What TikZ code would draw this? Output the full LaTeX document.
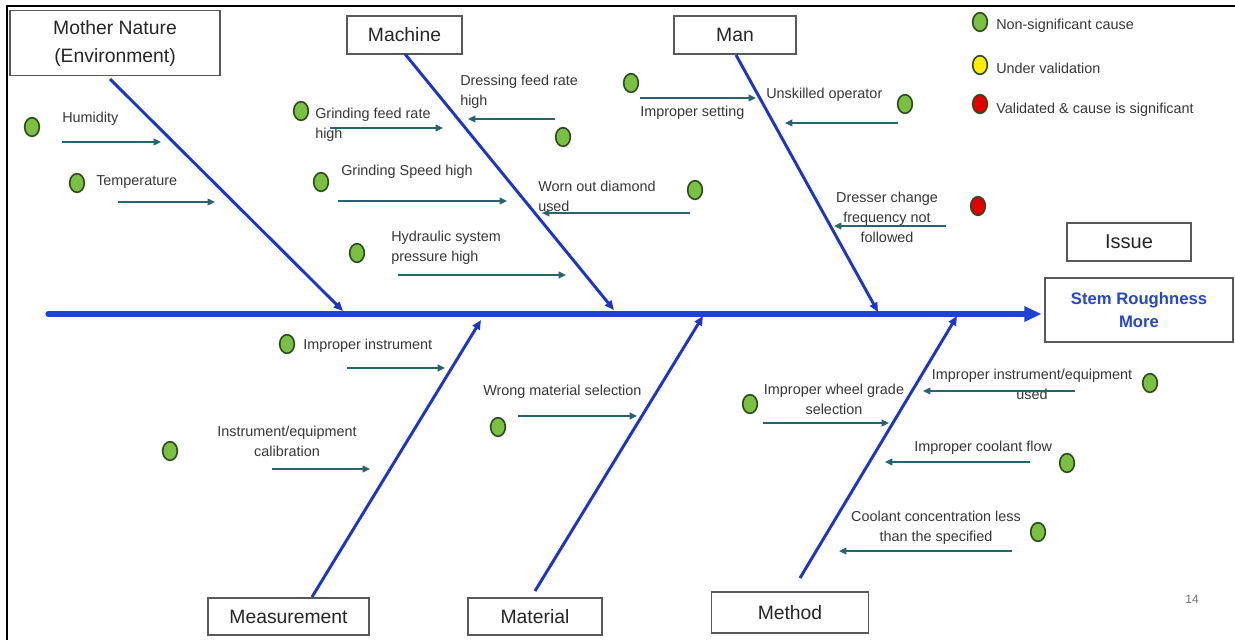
\documentclass[tikz,border=0pt]{standalone}
\usepackage{fontspec}
\setmainfont{Liberation Sans}
\usetikzlibrary{arrows.meta,shapes.geometric}
\definecolor{bonec}{RGB}{28,52,200}
\definecolor{spinec}{RGB}{30,66,214}
\definecolor{twig}{RGB}{40,100,110}
\definecolor{txt}{RGB}{55,55,55}
\definecolor{okgreen}{RGB}{122,192,66}
\definecolor{dotline}{RGB}{45,75,30}
\definecolor{pend}{RGB}{255,236,0}
\definecolor{bad}{RGB}{228,0,0}
\definecolor{effectc}{RGB}{40,70,200}
\begin{document}
\begin{tikzpicture}[x=0.75pt,y=-0.75pt,
  catbox/.style={draw=black!65,line width=1.1pt,fill=white,inner sep=0pt,
    font=\fontsize{14.5}{21}\selectfont,text=black!85,align=center},
  cause/.style={font=\fontsize{10.8}{15}\selectfont,text=txt,inner sep=0pt},
  spine/.style={draw=spinec,line width=3.8pt,line cap=round,
    -{Triangle[length=13pt,width=11pt]},shorten >=2pt},
  bone/.style={draw=bonec,line width=2.2pt,-{Triangle[length=7pt,width=6pt]}},
  twigarrow/.style={draw=twig,line width=2pt,-{Triangle[length=5.5pt,width=5pt]}},
  dot/.style={ellipse,draw=dotline,line width=1.2pt,minimum width=11pt,
    minimum height=14pt,inner sep=0pt},
  ns/.style={dot,fill=okgreen},
  uv/.style={dot,fill=pend},
  sig/.style={dot,fill=bad}]

\useasboundingbox (0,0) rectangle (1235,640);
\fill[white] (0,0) rectangle (1235,640);
% frame edges
\draw[line width=1.6pt,black] (1235,6) -- (7,6) -- (7,640);

% ---------- category boxes ----------
\node[catbox,minimum width=157.5pt,minimum height=48.75pt] (nature) at (115,43) {Mother Nature\\(Environment)};
\node[catbox,minimum width=86.25pt,minimum height=28.5pt] (machine) at (404.5,35) {Machine};
\node[catbox,minimum width=91.5pt,minimum height=28.5pt] (man) at (735,35) {Man};
\node[catbox,minimum width=120.75pt,minimum height=27.75pt] (measure) at (288.5,616.5) {Measurement};
\node[catbox,minimum width=100.5pt,minimum height=27.75pt] (material) at (535,616.5) {Material};
\node[catbox,minimum width=118pt,minimum height=30.75pt] (method) at (790,612.5) {Method};
\node[catbox,minimum width=93pt,minimum height=28.5pt,font=\fontsize{15}{18}\selectfont] (issue) at (1129,242) {Issue};
\node[catbox,minimum width=141pt,minimum height=48pt,text=effectc,
  font=\bfseries\fontsize{12.5}{17}\selectfont] (effect) at (1139,310) {Stem Roughness\\More};

% ---------- spine ----------
\coordinate (tail) at (48,314);
\draw[spine] (tail) -- (effect.west |- tail);

% ---------- bones ----------
\coordinate (n-tail) at (110,79);   \coordinate (n-tip) at (343,311);
\coordinate (mc-tail) at (405,54);  \coordinate (mc-tip) at (614,310);
\coordinate (mn-tail) at (736,55);  \coordinate (mn-tip) at (878,312);
\coordinate (ms-tail) at (312,597); \coordinate (ms-tip) at (481,320);
\coordinate (mt-tail) at (535,591); \coordinate (mt-tip) at (703,316);
\coordinate (me-tail) at (800,578); \coordinate (me-tip) at (957,316);
\draw[bone] (n-tail) -- (n-tip);
\draw[bone] (mc-tail) -- (mc-tip);
\draw[bone] (mn-tail) -- (mn-tip);
\draw[bone] (ms-tail) -- (ms-tip);
\draw[bone] (mt-tail) -- (mt-tip);
\draw[bone] (me-tail) -- (me-tip);

% ---------- Mother Nature causes ----------
\node[ns] (hum-d) at (32,127) {};
\node[cause,anchor=west] (hum-t) at (62,119) {Humidity};
\coordinate (hum-a) at (62,142); \coordinate (hum-b) at (161,142);
\draw[twigarrow] (hum-a) -- (hum-b);

\node[ns] (tmp-d) at (77,183) {};
\node[cause,anchor=west] (tmp-t) at (96,182) {Temperature};
\coordinate (tmp-a) at (118,202); \coordinate (tmp-b) at (215,202);
\draw[twigarrow] (tmp-a) -- (tmp-b);

% ---------- Machine causes ----------
\node[ns] (gfr-d) at (301,111) {};
\node[cause,anchor=west,align=left] (gfr-t) at (315,125) {Grinding feed rate\\high};
\coordinate (gfr-a) at (330,128); \coordinate (gfr-b) at (443,128);
\draw[twigarrow] (gfr-a) -- (gfr-b);

\node[ns] (dfr-d) at (563,137) {};
\node[cause,anchor=west,align=left] (dfr-t) at (460,92) {Dressing feed rate\\high};
\coordinate (dfr-a) at (555,119); \coordinate (dfr-b) at (468,119);
\draw[twigarrow] (dfr-a) -- (dfr-b);

\node[ns] (gsh-d) at (321,182) {};
\node[cause,anchor=west] (gsh-t) at (341,172) {Grinding Speed high};
\coordinate (gsh-a) at (338,201); \coordinate (gsh-b) at (507,201);
\draw[twigarrow] (gsh-a) -- (gsh-b);

\node[ns] (wod-d) at (695,190) {};
\node[cause,anchor=west,align=left] (wod-t) at (538,196) {Worn out diamond\\used};
\coordinate (wod-a) at (690,213); \coordinate (wod-b) at (542,213);
\draw[twigarrow] (wod-a) -- (wod-b);

\node[ns] (hyd-d) at (357,253) {};
\node[cause,anchor=west,align=left] (hyd-t) at (391,248) {Hydraulic system\\pressure high};
\coordinate (hyd-a) at (398,275); \coordinate (hyd-b) at (566,275);
\draw[twigarrow] (hyd-a) -- (hyd-b);

% ---------- Man causes ----------
\node[ns] (ims-d) at (631,83) {};
\node[cause,anchor=west] (ims-t) at (640,113) {Improper setting};
\coordinate (ims-a) at (640,98); \coordinate (ims-b) at (756,98);
\draw[twigarrow] (ims-a) -- (ims-b);

\node[ns] (uns-d) at (905,104) {};
\node[cause,anchor=west] (uns-t) at (766,95) {Unskilled operator};
\coordinate (uns-a) at (898,123); \coordinate (uns-b) at (785,123);
\draw[twigarrow] (uns-a) -- (uns-b);

\node[sig] (dcf-d) at (978,206) {};
\node[cause,align=center] (dcf-t) at (887,217) {Dresser change\\frequency not\\followed};
\coordinate (dcf-a) at (946,226); \coordinate (dcf-b) at (834,226);
\draw[twigarrow] (dcf-a) -- (dcf-b);

% ---------- Measurement causes ----------
\node[ns] (imi-d) at (287,344) {};
\node[cause,anchor=west] (imi-t) at (303,346) {Improper instrument};
\coordinate (imi-a) at (347,368); \coordinate (imi-b) at (445,368);
\draw[twigarrow] (imi-a) -- (imi-b);

\node[ns] (cal-d) at (170,451) {};
\node[cause,align=center] (cal-t) at (287,441) {Instrument/equipment\\calibration};
\coordinate (cal-a) at (272,469); \coordinate (cal-b) at (370,469);
\draw[twigarrow] (cal-a) -- (cal-b);

% ---------- Material cause ----------
\node[ns] (wms-d) at (498,427) {};
\node[cause,anchor=west] (wms-t) at (483,392) {Wrong material selection};
\coordinate (wms-a) at (518,416); \coordinate (wms-b) at (637,416);
\draw[twigarrow] (wms-a) -- (wms-b);

% ---------- Method causes ----------
\node[ns] (wgs-d) at (750,404) {};
\node[cause,align=center] (wgs-t) at (834,399) {Improper wheel grade\\selection};
\coordinate (wgs-a) at (763,423); \coordinate (wgs-b) at (889,423);
\draw[twigarrow] (wgs-a) -- (wgs-b);

\node[ns] (iie-d) at (1150,383) {};
\node[cause,align=center] (iie-t) at (1032,384) {Improper instrument/equipment\\used};
\coordinate (iie-a) at (1075,391); \coordinate (iie-b) at (923,391);
\draw[twigarrow] (iie-a) -- (iie-b);

\node[ns] (icf-d) at (1067,463) {};
\node[cause,anchor=west] (icf-t) at (914,448) {Improper coolant flow};
\coordinate (icf-a) at (1030,462); \coordinate (icf-b) at (885,462);
\draw[twigarrow] (icf-a) -- (icf-b);

\node[ns] (ccl-d) at (1038,532) {};
\node[cause,align=center] (ccl-t) at (936,528) {Coolant concentration less\\than the specified};
\coordinate (ccl-a) at (1012,551); \coordinate (ccl-b) at (839,551);
\draw[twigarrow] (ccl-a) -- (ccl-b);

% ---------- legend ----------
\node[ns] (key-ns) at (980,22) {};
\node[uv] (key-uv) at (980,65) {};
\node[sig] (key-sig) at (980,104) {};
\node[cause,anchor=west] (key-ns-t) at (996,26) {Non-significant cause};
\node[cause,anchor=west] (key-uv-t) at (996,68) {Under validation};
\node[cause,anchor=west] (key-sig-t) at (996,110) {Validated \& cause is significant};

% page number
\node[font=\fontsize{9}{11}\selectfont,text=black!55,inner sep=0pt] (pageno) at (1192,599) {14};
\end{tikzpicture}
\end{document}
